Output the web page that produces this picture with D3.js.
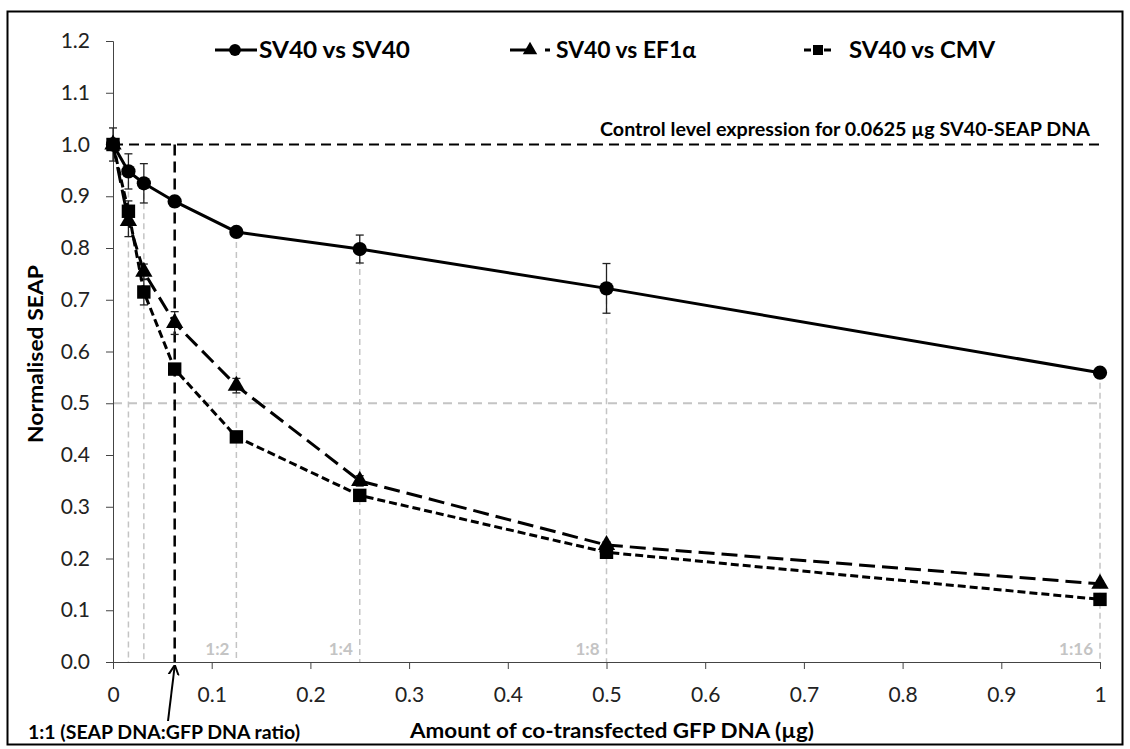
<!DOCTYPE html>
<html><head><meta charset="utf-8">
<script src="https://cdn.jsdelivr.net/npm/d3@7"></script>
<style>
body{margin:0;background:#fff;}
text{font-family:Lato,"Open Sans",sans-serif;}
</style></head>
<body><svg id="c" width="1130" height="749"></svg>
<script>
const xValues = [0, 0.015625, 0.03125, 0.0625, 0.125, 0.25, 0.5, 1];
const seriesNames = ["SV40 vs SV40", "SV40 vs EF1α", "SV40 vs CMV"];
const sv40 = [1.0, 0.948, 0.925, 0.890, 0.831, 0.798, 0.722, 0.559];
const sv40Err = [0.032, 0.034, 0.038, 0.010, 0.006, 0.027, 0.048, 0.005];
const ef1a = [1.0, 0.852, 0.754, 0.655, 0.534, 0.350, 0.226, 0.151];
const ef1aErr = [0.0, 0.030, 0.015, 0.022, 0.014, 0.010, 0.006, 0.005];
const cmv = [1.0, 0.871, 0.715, 0.566, 0.435, 0.322, 0.212, 0.121];
const cmvErr = [0.0, 0.020, 0.025, 0.010, 0.008, 0.010, 0.010, 0.006];
const yTicks = [0,0.1,0.2,0.3,0.4,0.5,0.6,0.7,0.8,0.9,1.0,1.1,1.2];
const xTicks = [0,0.1,0.2,0.3,0.4,0.5,0.6,0.7,0.8,0.9,1];
const ratioLabels = [{x:0.125,t:"1:2"},{x:0.25,t:"1:4"},{x:0.5,t:"1:8"},{x:1,t:"1:16"}];
const controlLevel = 1.0;
const halfLevel = 0.5;
const oneToOneX = 0.0625;

const svg = d3.select("#c");
const x = d3.scaleLinear().domain([0,1]).range([113,1100]);
const y = d3.scaleLinear().domain([0,1.2]).range([662,41]);

svg.append("rect").attr("x",7.5).attr("y",11.5).attr("width",1115).attr("height",733)
  .attr("fill","none").attr("stroke","#000").attr("stroke-width",2);

const gray = "#c4c4c4";
svg.append("line").attr("x1",x(0)).attr("x2",x(1)).attr("y1",y(halfLevel)).attr("y2",y(halfLevel))
  .attr("stroke",gray).attr("stroke-width",2).attr("stroke-dasharray","9,6");
xValues.forEach((v,i)=>{
  if(v===0 || v===oneToOneX) return;
  svg.append("line").attr("x1",x(v)).attr("x2",x(v)).attr("y1",y(sv40[i])).attr("y2",y(0))
    .attr("stroke",gray).attr("stroke-width",1.5).attr("stroke-dasharray","6,4");
});
ratioLabels.forEach(r=>{
  svg.append("text").attr("x",x(r.x)-7).attr("y",655).attr("text-anchor","end")
    .attr("fill","#c4c4c4").attr("font-weight","bold").attr("font-size",17).text(r.t);
});

svg.append("line").attr("x1",x(0)).attr("x2",x(1)).attr("y1",y(controlLevel)).attr("y2",y(controlLevel))
  .attr("stroke","#000").attr("stroke-width",2).attr("stroke-dasharray","10,6");
svg.append("line").attr("x1",x(oneToOneX)).attr("x2",x(oneToOneX)).attr("y1",y(controlLevel)).attr("y2",y(0))
  .attr("stroke","#000").attr("stroke-width",2.5).attr("stroke-dasharray","11,6");
svg.append("text").attr("x",1090).attr("y",136).attr("text-anchor","end")
  .attr("font-weight","bold").attr("font-size",18).attr("textLength",490).attr("lengthAdjust","spacingAndGlyphs")
  .text("Control level expression for 0.0625 µg SV40-SEAP DNA");

const yAxis = d3.axisLeft(y).tickValues(yTicks).tickFormat(d3.format(".1f")).tickSize(7).tickPadding(16);
const ga = svg.append("g").attr("transform",`translate(${x(0)},0)`).call(yAxis);
ga.select(".domain").attr("stroke","#444");
ga.selectAll(".tick line").attr("stroke","#444");
ga.selectAll("text").attr("font-size",21).attr("fill","#222").attr("font-family","Lato,sans-serif");
const xAxis = d3.axisBottom(x).tickValues(xTicks).tickFormat(d=>d===0?"0":d===1?"1":d3.format(".1f")(d)).tickSize(7).tickPadding(18);
const gx = svg.append("g").attr("transform",`translate(0,${y(0)})`).call(xAxis);
gx.select(".domain").attr("stroke","#444");
gx.selectAll(".tick line").attr("stroke","#444");
gx.selectAll("text").attr("font-size",21).attr("fill","#222").attr("font-family","Lato,sans-serif");

svg.append("text").attr("transform","translate(43,354) rotate(-90)").attr("text-anchor","middle")
  .attr("font-weight","bold").attr("font-size",20).attr("textLength",178).attr("lengthAdjust","spacingAndGlyphs")
  .text("Normalised SEAP");
svg.append("text").attr("x",612).attr("y",738).attr("text-anchor","middle")
  .attr("font-weight","bold").attr("font-size",20).attr("textLength",404).attr("lengthAdjust","spacingAndGlyphs")
  .text("Amount of co-transfected GFP DNA (µg)");
svg.append("text").attr("x",28).attr("y",739).attr("font-weight","bold").attr("font-size",18)
  .attr("textLength",272).attr("lengthAdjust","spacingAndGlyphs").text("1:1 (SEAP DNA:GFP DNA ratio)");

svg.append("defs").append("marker").attr("id","ah").attr("viewBox","0 0 10 10").attr("refX",9).attr("refY",5)
  .attr("markerWidth",5).attr("markerHeight",7).attr("orient","auto")
  .append("path").attr("d","M0,0 L10,5 L0,10").attr("fill","none").attr("stroke","#000").attr("stroke-width",2);
svg.append("line").attr("x1",168).attr("y1",721).attr("x2",x(oneToOneX)).attr("y2",666)
  .attr("stroke","#000").attr("stroke-width",2).attr("marker-end","url(#ah)");

const series = [
  {name:seriesNames[0], vals:sv40, err:sv40Err, dash:null, sym:d3.symbolCircle, size:160},
  {name:seriesNames[1], vals:ef1a, err:ef1aErr, dash:"16,7", sym:d3.symbolTriangle, size:130},
  {name:seriesNames[2], vals:cmv, err:cmvErr, dash:"8,4", sym:d3.symbolSquare, size:180}
];
const line = d3.line().x(d=>x(d[0])).y(d=>y(d[1]));
series.forEach(s=>{
  const pts = xValues.map((v,i)=>[v,s.vals[i],s.err[i]]);
  pts.forEach(p=>{
    if(p[2]<=0) return;
    const g = svg.append("g").attr("stroke","#222").attr("stroke-width",1.3);
    g.append("line").attr("x1",x(p[0])).attr("x2",x(p[0])).attr("y1",y(p[1]+p[2])).attr("y2",y(p[1]-p[2]));
    g.append("line").attr("x1",x(p[0])-4).attr("x2",x(p[0])+4).attr("y1",y(p[1]+p[2])).attr("y2",y(p[1]+p[2]));
    g.append("line").attr("x1",x(p[0])-4).attr("x2",x(p[0])+4).attr("y1",y(p[1]-p[2])).attr("y2",y(p[1]-p[2]));
  });
  svg.append("path").datum(pts).attr("d",line).attr("fill","none").attr("stroke","#000")
    .attr("stroke-width",3).attr("stroke-dasharray",s.dash);
});
series.forEach(s=>{
  svg.selectAll(null).data(xValues.map((v,i)=>[v,s.vals[i]])).join("path")
    .attr("transform",d=>`translate(${x(d[0])},${y(d[1])})`)
    .attr("d",d3.symbol().type(s.sym).size(s.size)).attr("fill","#000");
});

const legend = [
  {x0:215,x1:257,mx:235,tx:259,tw:151,dash:null,msize:110},
  {x0:510,x1:551,mx:530,tx:556,tw:140,dash:"22,13,5",msize:90},
  {x0:804,x1:832,mx:818,tx:849,tw:146,dash:"7,3",msize:100}
];
series.forEach((s,i)=>{
  const L = legend[i];
  svg.append("line").attr("x1",L.x0).attr("x2",L.x1).attr("y1",50).attr("y2",50)
    .attr("stroke","#000").attr("stroke-width",3).attr("stroke-dasharray",L.dash);
  svg.append("path").attr("transform",`translate(${L.mx},50)`).attr("d",d3.symbol().type(s.sym).size(L.msize)).attr("fill","#000");
  svg.append("text").attr("x",L.tx).attr("y",58).attr("font-weight","bold").attr("font-size",22)
    .attr("textLength",L.tw).attr("lengthAdjust","spacingAndGlyphs").text(s.name);
});
</script></body></html>
